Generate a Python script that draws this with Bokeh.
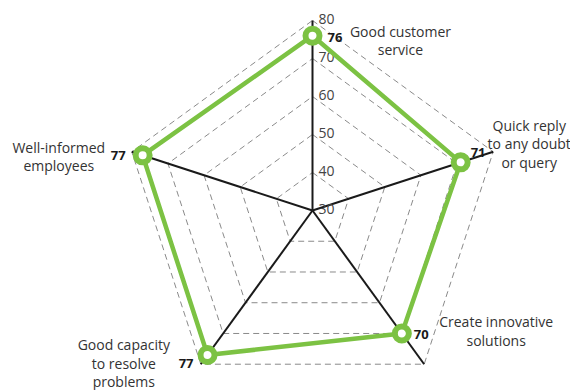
import numpy as np
from bokeh.plotting import figure
from bokeh.models import Range1d, ColumnDataSource
from bokeh.core.properties import value
from bokeh.embed import file_html
from bokeh.resources import INLINE

# ---- data ----
categories = ["Good customer\nservice",
              "Quick reply\nto any doubt\nor query",
              "Create innovative\nsolutions",
              "Good capacity\nto resolve\nproblems",
              "Well-informed\nemployees"]
scores = [76, 71, 70, 77, 77]
tick_values = [30, 40, 50, 60, 70, 80]
tick_labels = ["30", "40", "50", "60", "70", "80"]
r_min, r_max = 30, 80

# ---- layout / style ----
GREEN = "#7cc243"
FONT = "Open Sans"
R = 190.0  # pixel radius of r_max
n = len(categories)
angles = np.deg2rad(90 - 72 * np.arange(n))

def rad(v):
    return (np.asarray(v, dtype=float) - r_min) / (r_max - r_min) * R

def polar(v, a):
    r = rad(v)
    return r * np.cos(a), r * np.sin(a)

W, H = 570, 390
CX, CY = 312, 210
p = figure(width=W, height=H, output_backend="svg", toolbar_location=None,
           x_range=Range1d(-CX, W - CX), y_range=Range1d(CY - H, CY),
           min_border=0, outline_line_color=None)
p.axis.visible = False
p.grid.visible = False
p.background_fill_color = "white"
p.border_fill_color = "white"

# dashed grid polygons
for tv in tick_values[1:]:
    gx, gy = polar([tv] * (n + 1), np.append(angles, angles[0]))
    p.line(gx, gy, line_color="#8a8a8a", line_width=1, line_dash="6 4")

# spokes
for a in angles:
    sx, sy = polar([r_min, r_max], [a, a])
    p.line(sx, sy, line_color="#1a1a1a", line_width=2)

# tick labels along top spoke
tx, ty = polar(tick_values, [angles[0]] * len(tick_values))
p.text(tx + 6, ty + 2, text=tick_labels, text_font=value(FONT),
       text_font_size="14px", text_color="#444444",
       text_align="left", text_baseline="middle")

# data polygon
dx, dy = polar(scores, angles)
p.line(np.append(dx, dx[0]), np.append(dy, dy[0]), line_color=GREEN,
       line_width=4.5, line_join="round")
p.scatter(dx, dy, size=14, fill_color="white", line_color=GREEN, line_width=6)

# value labels (pixel offsets from each point)
v_off_x = [15, 10, 12, -14, -17]
v_off_y = [-2, 10, -1, -9, 0]
v_align = ["left", "left", "left", "right", "right"]
p.text(dx + np.array(v_off_x), dy + np.array(v_off_y), text=[str(s) for s in scores],
       text_font=value(FONT), text_font_size="13px", text_font_style="bold",
       text_color="#1a1a1a", text_align=v_align, text_baseline="middle")

# category labels (pixel offsets from outer vertices)
ox, oy = polar([r_max] * n, angles)
c_off_x = [88, 36, 72, -77, -73]
c_off_y = [-20, 8, 33, 1, -5]
p.text(ox + np.array(c_off_x), oy + np.array(c_off_y), text=categories,
       text_font=value(FONT), text_font_size="14px", text_color="#333333",
       text_align="center", text_baseline="middle", text_line_height=0.97)

open("out.html", "w").write(file_html(p, INLINE))
